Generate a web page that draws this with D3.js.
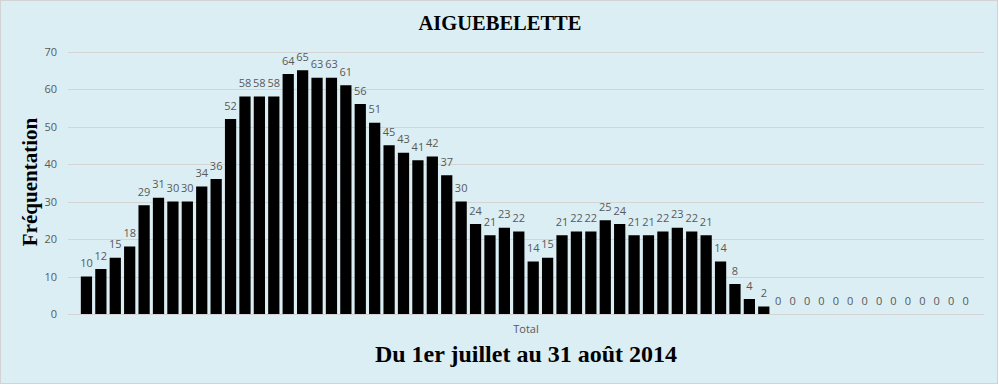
<!DOCTYPE html>
<html><head><meta charset="utf-8">
<script src="https://cdn.jsdelivr.net/npm/d3@7"></script>
<style>html,body{margin:0;padding:0;background:#fff;}svg{display:block;}</style>
</head><body>
<script>
const title = "AIGUEBELETTE";
const subtitle = "Du 1er juillet au 31 août 2014";
const yTitle = "Fréquentation";
const categoryLabel = "Total";
const days = [
  "1/7","2/7","3/7","4/7","5/7","6/7","7/7","8/7","9/7","10/7","11/7","12/7","13/7","14/7","15/7","16/7",
  "17/7","18/7","19/7","20/7","21/7","22/7","23/7","24/7","25/7","26/7","27/7","28/7","29/7","30/7","31/7",
  "1/8","2/8","3/8","4/8","5/8","6/8","7/8","8/8","9/8","10/8","11/8","12/8","13/8","14/8","15/8","16/8",
  "17/8","18/8","19/8","20/8","21/8","22/8","23/8","24/8","25/8","26/8","27/8","28/8","29/8","30/8","31/8"
];
const values = [
  10,12,15,18,29,31,30,30,34,36,52,58,58,58,64,65,63,63,61,56,51,45,43,41,42,37,30,24,21,23,22,
  14,15,21,22,22,25,24,21,21,22,23,22,21,14,8,4,2,0,0,0,0,0,0,0,0,0,0,0,0,0,0
];
const yTicks = [0,10,20,30,40,50,60,70];

const W = 999, H = 385;
const svg = d3.select("body").append("svg").attr("width", W).attr("height", H);

svg.append("rect").attr("x",0.5).attr("y",0.5).attr("width",W-2).attr("height",H-2)
  .attr("fill","#DBEEF4").attr("stroke","#D3D3D3").attr("stroke-width",1);

const plotL = 68, plotR = 984, plotT = 51.5, plotB = 314;
const x = d3.scaleBand().domain(days).range([plotL, plotR]).paddingInner(0.22).paddingOuter(0.89);
const y = d3.scaleLinear().domain([0, 70]).range([plotB, plotT]);

// gridlines
svg.append("g").selectAll("line").data(yTicks).join("line")
  .attr("x1", plotL).attr("x2", plotR)
  .attr("y1", d => Math.round(y(d)) + 0.5).attr("y2", d => Math.round(y(d)) + 0.5)
  .attr("stroke", "#D4D4D4").attr("stroke-width", 1);

// y axis labels
const yAxis = d3.axisLeft(y).tickValues(yTicks).tickSize(0).tickPadding(11);
const gy = svg.append("g").attr("transform", `translate(${plotL},0)`).call(yAxis);
gy.select(".domain").remove();
gy.selectAll("text").attr("fill","#595959").style("font-family","'Open Sans', sans-serif").style("font-size","11px");

// bars
svg.append("g").selectAll("rect").data(values).join("rect")
  .attr("x", (d,i) => x(days[i]))
  .attr("width", x.bandwidth())
  .attr("y", d => y(d))
  .attr("height", d => y(0) - y(d))
  .attr("fill", "#000");

// data labels
svg.append("g").selectAll("text").data(values).join("text")
  .attr("x", (d,i) => x(days[i]) + x.bandwidth()/2)
  .attr("y", d => y(d) - 9.5)
  .attr("text-anchor","middle")
  .attr("fill","#595959")
  .style("font-family","'Open Sans', sans-serif").style("font-size","11px")
  .text(d => d);

// category label
svg.append("text").attr("x", 526).attr("y", 333).attr("text-anchor","middle")
  .attr("fill","#595959").style("font-family","'Open Sans', sans-serif").style("font-size","11px")
  .text(categoryLabel);

// titles
svg.append("text").attr("x", 500).attr("y", 30).attr("text-anchor","middle")
  .style("font-family","'Liberation Serif', 'Times New Roman', serif").style("font-weight","bold").style("font-size","20.5px")
  .attr("fill","#000").text(title);

svg.append("text").attr("x", 526).attr("y", 362).attr("text-anchor","middle")
  .style("font-family","'Liberation Serif', 'Times New Roman', serif").style("font-weight","bold").style("font-size","24px")
  .attr("fill","#000").text(subtitle);

svg.append("text").attr("transform","translate(37,182) rotate(-90)").attr("text-anchor","middle")
  .style("font-family","'Liberation Serif', 'Times New Roman', serif").style("font-weight","bold").style("font-size","21px")
  .attr("fill","#000").text(yTitle);
</script>
</body></html>
